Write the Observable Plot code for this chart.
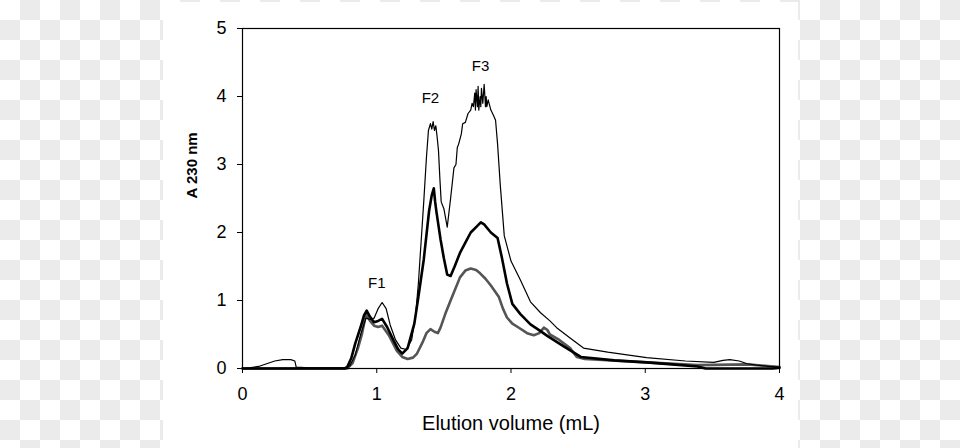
<!DOCTYPE html>
<html><head><meta charset="utf-8">
<script src="https://cdn.jsdelivr.net/npm/d3@7"></script>
<script src="https://cdn.jsdelivr.net/npm/@observablehq/plot@0.6"></script>
<style>
html,body{margin:0;padding:0;}
body{width:960px;height:448px;overflow:hidden;position:relative;
  background:conic-gradient(#ebebeb 90deg,#fff 90deg 180deg,#ebebeb 180deg 270deg,#fff 270deg) 0 0/40px 40px;}
#panel{position:absolute;left:163px;top:2px;width:635px;height:446px;background:#fff;}
#chart{position:absolute;left:0;top:0;}
</style></head>
<body><div id="panel"></div><div id="chart"></div>
<script>
// Thin black trace
const volA = [0,0.05,0.12,0.18,0.24,0.30,0.36,0.39,0.40,0.50,0.76,0.80,0.84,0.88,0.92,0.95,0.98,1.01,1.04,1.07,1.10,1.14,1.18,1.22,1.26,1.29,1.31,1.33,1.35,1.37,1.385,1.40,1.41,1.42,1.43,1.44,1.45,1.46,1.47,1.48,1.50,1.525,1.55,1.575,1.59,1.60,1.61,1.63,1.64,1.66,1.68,1.70,1.71,1.72,1.73,1.735,1.74,1.75,1.755,1.76,1.77,1.775,1.78,1.79,1.80,1.81,1.815,1.82,1.83,1.85,1.87,1.885,1.90,1.92,1.95,2.00,2.07,2.145,2.22,2.29,2.34,2.44,2.54,2.72,3.01,3.30,3.51,3.58,3.63,3.70,3.76,3.83,3.92,4.0];
const absA = [0,0.01,0.03,0.07,0.11,0.13,0.13,0.11,0.02,0.01,0.01,0.04,0.2,0.5,0.74,0.72,0.74,0.88,0.97,0.88,0.64,0.42,0.30,0.28,0.42,0.8,1.25,1.85,2.45,3.1,3.5,3.6,3.52,3.63,3.5,3.57,3.4,3.2,2.8,2.45,2.35,2.08,2.5,2.95,3.0,3.25,3.3,3.45,3.6,3.62,3.75,3.8,3.9,3.85,4.05,3.8,4.1,3.85,4.15,3.8,4.0,3.85,4.12,3.9,4.18,3.85,4.0,3.85,3.95,3.8,3.72,3.65,3.3,2.7,1.95,1.58,1.3,0.98,0.82,0.7,0.6,0.45,0.3,0.24,0.16,0.11,0.09,0.12,0.13,0.11,0.07,0.05,0.03,0.02];
// Thick black trace
const volB = [0,0.5,0.76,0.78,0.81,0.84,0.88,0.905,0.925,0.95,0.98,1.01,1.04,1.077,1.126,1.16,1.19,1.23,1.28,1.31,1.35,1.39,1.41,1.425,1.435,1.445,1.475,1.50,1.525,1.55,1.58,1.62,1.66,1.70,1.74,1.775,1.80,1.85,1.90,1.93,1.97,2.01,2.07,2.145,2.22,2.27,2.39,2.52,2.77,3.01,3.2,3.39,3.45,3.95,4.0];
const absB = [0,0,0,0.02,0.15,0.37,0.61,0.78,0.85,0.76,0.68,0.70,0.73,0.61,0.41,0.28,0.22,0.3,0.66,1.05,1.6,2.32,2.55,2.65,2.45,2.3,1.9,1.62,1.38,1.36,1.5,1.7,1.85,2.0,2.08,2.15,2.12,2.0,1.92,1.65,1.25,0.95,0.8,0.65,0.55,0.48,0.33,0.17,0.12,0.09,0.06,0.03,0.0,0.0,0.01];
// Grey trace
const volC = [0,0.5,0.78,0.82,0.86,0.89,0.92,0.95,0.98,1.01,1.04,1.09,1.15,1.19,1.23,1.27,1.30,1.34,1.37,1.40,1.43,1.455,1.475,1.51,1.55,1.62,1.66,1.70,1.74,1.77,1.81,1.85,1.91,1.94,1.97,2.01,2.05,2.12,2.17,2.21,2.245,2.27,2.29,2.36,2.44,2.49,2.55,3.01,3.39,3.76,3.96,4.0];
const absC = [0,0,0,0.08,0.3,0.51,0.8,0.7,0.63,0.61,0.63,0.49,0.26,0.17,0.14,0.16,0.22,0.38,0.52,0.58,0.54,0.52,0.6,0.8,1.0,1.34,1.44,1.47,1.45,1.40,1.32,1.22,1.05,0.88,0.75,0.66,0.61,0.52,0.49,0.52,0.6,0.57,0.5,0.42,0.3,0.17,0.14,0.09,0.05,0.06,0.03,0.02];

const peakNames = ["F1","F2","F3"];
const peakVol = [1.0,1.40,1.773];
const peakAbs = [1.25,3.98,4.44];

const xTicks = [0,1,2,3,4];
const yTicks = [0,1,2,3,4,5];
const xLabel = "Elution volume (mL)";
const yLabel = "A 230 nm";

const toRows = (v, a) => v.map((x, i) => ({x, y: a[i]}));
const rowsA = toRows(volA, absA), rowsB = toRows(volB, absB), rowsC = toRows(volC, absC);
const peaks = peakNames.map((n, i) => ({n, x: peakVol[i], y: peakAbs[i]}));

const chart = Plot.plot({
  width: 960, height: 448,
  marginLeft: 242, marginRight: 181, marginTop: 28, marginBottom: 80,
  style: {background: "transparent", fontFamily: "'Liberation Sans', Arial, sans-serif", fontSize: "17px", color: "#000"},
  x: {domain: [0, 4]},
  y: {domain: [0, 5]},
  marks: [
    Plot.axisX(xTicks, {tickSize: 5, tickPadding: 14, label: null, fontSize: 18, tickFormat: d3.format("d")}),
    Plot.axisY(yTicks, {tickSize: 5, tickPadding: 11, label: null, fontSize: 18, tickFormat: d3.format("d")}),
    Plot.line(rowsC, {x: "x", y: "y", stroke: "#555", strokeWidth: 2.6}),
    Plot.line(rowsA, {x: "x", y: "y", stroke: "#000", strokeWidth: 1.2}),
    Plot.line(rowsB, {x: "x", y: "y", stroke: "#000", strokeWidth: 2.6}),
    Plot.frame({stroke: "#000", strokeWidth: 1.2}),
    Plot.text(peaks, {x: "x", y: "y", text: "n", fontSize: 15}),
    Plot.text([yLabel], {frameAnchor: "left", dx: -50, rotate: -90, fontWeight: "bold", fontSize: 15}),
    Plot.text([xLabel], {frameAnchor: "bottom", dy: 61, fontSize: 20})
  ]
});
document.getElementById("chart").appendChild(chart);
</script>
</body></html>
